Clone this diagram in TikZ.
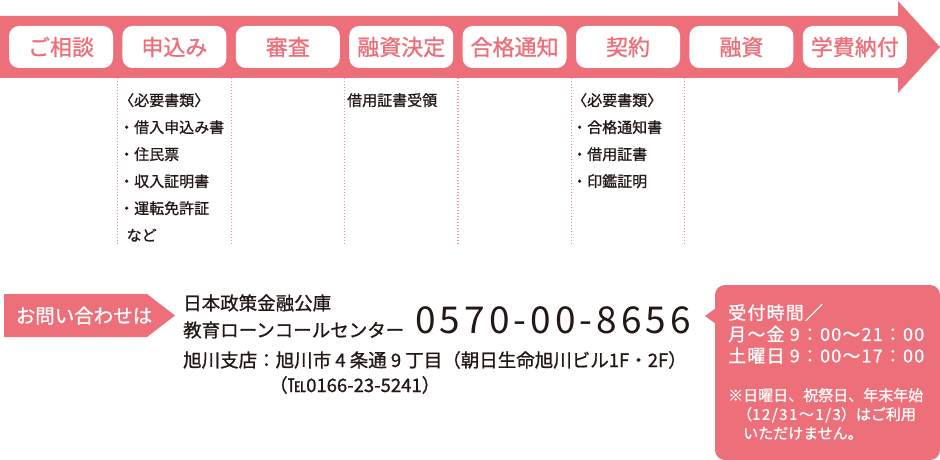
\documentclass[tikz,border=0pt]{standalone}
\usepackage{fontspec}
\setmainfont{Noto Sans CJK JP}
\newfontfamily\medfont{Noto Sans CJK JP}[FakeBold=1]
\usetikzlibrary{calc,positioning,chains}
\definecolor{flowpink}{RGB}{236,111,121}
\definecolor{dotpink}{RGB}{240,146,154}
\definecolor{inkblack}{RGB}{35,24,21}
\newcommand{\sizept}[2]{\fontsize{#1pt}{#2pt}\selectfont}
\newcommand{\spaced}[1]{{\addfontfeature{LetterSpace=10}#1}}
\tikzset{
	stepbox/.style={
		rectangle, 
		rounded corners=10pt, 
		fill=white,
		text=flowpink,
		minimum width=104pt, 
		minimum height=42pt, 
		inner sep=0pt,
		font=\medfont\sizept{22}{22},
		on chain},
	divider/.style={draw=dotpink, line width=1.2pt, dash pattern=on 1.2pt off 1.8pt},
	memo/.style={
		anchor=north west,
		align=left,
		inner sep=0pt,
		text=inkblack,
		font=\medfont\sizept{15}{27}},
	info/.style={anchor=base west, inner sep=0pt, text=inkblack, font=\medfont\sizept{18.5}{18.5}},
	phone/.style={anchor=base west, inner sep=0pt, text=inkblack,
		font=\sizept{37}{37}\addfontfeature{LetterSpace=11}},
	boxtext/.style={anchor=north west, align=left, inner sep=0pt, text=white},
}

\begin{document}
\begin{tikzpicture}
	[x=1pt, y=-1pt,
	node distance=9pt,
	start chain=going right,]
\useasboundingbox (0,0) rectangle (940,460);

% arrow band
\fill[flowpink] (0,16) -| (898,1) -- (940,47) -- (898,93) |- (0,78) -- cycle;
\coordinate (bandfoot) at (0,78);

\node[stepbox] (consult) at (61,47) {ご相談};
\node[stepbox] (apply) {申込み};
\node[stepbox] (review) {審査};
\node[stepbox] (decide) {融資決定};
\node[stepbox] (notify) {合格通知};
\node[stepbox] (contract) {契約};
\node[stepbox] (loan) {融資};
\node[stepbox] (tuition) {学費納付};

\foreach \a/\b in {consult/apply,apply/review,review/decide,decide/notify,notify/contract,contract/loan}{
	\path ($(\a.east)!.5!(\b.west)$) coordinate (gap);
	\draw[divider] (gap |- bandfoot) -- ++(0,167);
}

\node[memo] (applydocs) at (119,93) {〈必要書類〉\\・借入申込み書\\・住民票\\・収入証明書\\・運転免許証\\\hspace{0.5em}など};
\node[memo] (receipt) at (347,93) {借用証書受領};
\node[memo] (contractdocs) at (572,93) {〈必要書類〉\\・合格通知書\\・借用証書\\・印鑑証明};

% contact
\fill[flowpink] (4,294) -- (147,294) -- (175,315.5) -- (147,337) -- (4,337) -- cycle;
\node[anchor=base, inner sep=0pt, text=white, font=\medfont\sizept{19.5}{19.5}] (askus) at (84,323) {お問い合わせは};

\node[info] (agency) at (183,310) {日本政策金融公庫};
\node[info] (callcenter) at (183,337) {教育ローンコールセンター};
\node[phone] (number) at (415,333) {0570-00-8656};
\node[info] (branch) at (183,367) {旭川支店：旭川市 4 条通 9 丁目（朝日生命旭川ビル1F・2F）};
\node[info] (tel) at (269,392) {（℡0166-23-5241）};

% hours
\fill[flowpink, rounded corners=10pt] (715,285) rectangle (940,460);
\fill[flowpink] (716,308) -- (705,316) -- (716,324) -- cycle;
\node[boxtext, font=\medfont\sizept{18}{21.5}\addfontfeature{LetterSpace=6.5}] (hours) at (728,304) {受付時間／\\月〜金 9：00〜21：00\\土曜日 9：00〜17：00};
\node[boxtext, font=\medfont\sizept{15}{19}] (closed) at (728,388) {※日曜日、祝祭日、年末年始\\\hspace{0.6em}（\spaced{12/31〜1/3}）はご利用\\\hspace{1em}いただけません。};
\end{tikzpicture}
\end{document}
